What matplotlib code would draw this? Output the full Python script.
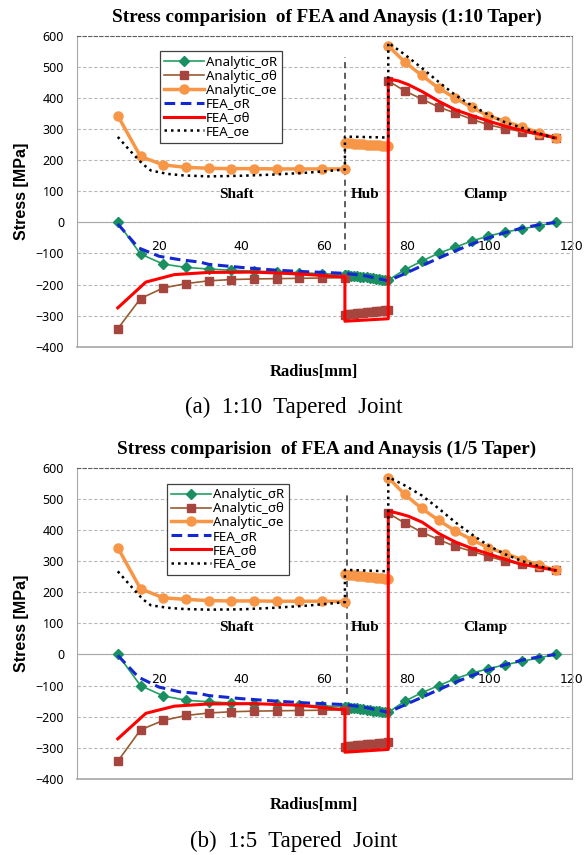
import matplotlib
matplotlib.use("Agg")
import matplotlib.pyplot as plt

# radius positions of the analytic points
r_shaft = [10, 15.5, 21, 26.5, 32, 37.5, 43, 48.5, 54, 59.5, 65]
r_hub = [65, 65.75, 66.5, 67.25, 68, 68.75, 69.5, 70.25, 71, 71.75, 72.5,
         73.25, 74, 74.75, 75.5]
r_clamp = [75.5, 79.5, 83.6, 87.7, 91.7, 95.7, 99.7, 103.8, 107.9, 111.9, 116]

# ---- (a) 1:10 taper ----
an_sR_shaft_a = [0, -102, -134, -145, -150, -154, -157, -159, -162, -165, -168]
an_sR_hub_a = [-168, -169, -171, -172, -173, -175, -176, -177, -179, -180,
               -181, -182, -184, -185, -186]
an_sR_clamp_a = [-186, -152, -125, -99, -80, -60, -44, -31, -21, -11, 0]

an_sT_shaft_a = [-342, -245, -211, -197, -188, -184, -182, -181, -180, -179, -178]
an_sT_hub_a = [-297, -296, -295, -294, -293, -292, -290, -289, -288, -287,
               -286, -285, -284, -283, -281]
an_sT_clamp_a = [455, 423, 397, 371, 352, 332, 314, 302, 292, 281, 271]

an_se_shaft_a = [343, 212, 185, 177, 174, 173, 173, 172, 172, 172, 172]
an_se_hub_a = [255, 254, 254, 253, 252, 252, 251, 250, 250, 249, 248, 248,
               247, 246, 246]
an_se_clamp_a = [568, 516, 473, 432, 400, 370, 343, 325, 307, 289, 271]

fea_r_R = [10, 15, 20, 25, 30, 32, 40, 48.5, 56, 60, 65, 70, 75.5, 79.5,
           83.6, 87.7, 91.7, 95.7, 99.7, 103.8, 107.9, 111.9, 116]
fea_sR_a = [-5, -82, -109, -120, -128, -135, -145, -154, -159, -161, -164,
            -172, -188, -165, -140, -115, -92, -70, -50, -33, -18, -8, 0]

fea_r_T = [10, 16.8, 23.7, 32, 43, 54, 65, 65, 75.5, 75.5, 78, 80.4, 83.7,
           87.8, 91.8, 95.9, 100, 104, 107.3, 112, 116]
fea_sT_a = [-275, -192, -168, -161, -160, -166, -176, -318, -310, 462, 455,
            443, 421, 389, 362, 343, 325, 309, 298, 284, 272]

fea_r_e = [10, 13, 16, 18, 22, 26, 32, 40, 48, 56, 65, 65, 75.5, 75.5, 79.5,
           83.6, 87.7, 91.7, 95.7, 99.7, 103.8, 107.9, 111.9, 116]
fea_se_a = [275, 230, 188, 167, 156, 151, 148, 150, 154, 160, 170, 276, 273,
            578, 540, 497, 452, 410, 376, 347, 322, 304, 287, 270]

# ---- (b) 1/5 taper ----
an_sR_shaft_b = [0, -100, -133, -147, -152, -156, -158, -160, -163, -165, -168]
an_sR_hub_b = [-168, -169, -171, -172, -173, -175, -176, -177, -179, -180,
               -181, -182, -184, -185, -186]
an_sR_clamp_b = [-186, -150, -123, -100, -78, -60, -46, -33, -22, -11, 0]

an_sT_shaft_b = [-343, -242, -212, -196, -188, -184, -182, -181, -180, -179, -178]
an_sT_hub_b = [-296, -295, -294, -293, -292, -291, -290, -289, -288, -287,
               -286, -285, -284, -283, -281]
an_sT_clamp_b = [454, 422, 393, 369, 347, 332, 315, 300, 290, 280, 271]

an_se_shaft_b = [343, 211, 182, 177, 173, 172, 172, 171, 171, 171, 170]
an_se_hub_b = [257, 256, 255, 254, 253, 252, 251, 250, 249, 248, 247, 246,
               245, 244, 243]
an_se_clamp_b = [568, 514, 469, 431, 397, 369, 343, 324, 305, 288, 271]

fea_sR_b = [-3, -73, -105, -120, -126, -132, -142, -150, -156, -158, -161,
            -170, -186, -162, -138, -113, -90, -68, -50, -33, -18, -8, 0]
fea_sT_b = [-271, -189, -166, -159, -158, -163, -178, -314, -305, 461, 453,
            444, 425, 388, 361, 340, 322, 305, 291, 280, 270]
fea_se_b = [267, 222, 178, 158, 150, 146, 144, 145, 150, 157, 168, 272, 267,
            570, 543, 511, 469, 425, 386, 350, 322, 300, 284, 270]

titles = ["Stress comparision  of FEA and Anaysis (1:10 Taper)",
          "Stress comparision  of FEA and Anaysis (1/5 Taper)"]
captions = ["(a)  1:10  Tapered  Joint", "(b)  1:5  Tapered  Joint"]
zones = ["Shaft", "Hub", "Clamp"]
zone_r = [38.7, 70, 99]

GREEN = "#22a060"
GREEN_M = "#1a8f62"
BROWN = "#9a5a30"
BROWN_M = "#a5453e"
ORANGE = "#f79646"
BLUE = "#1428d0"
RED = "#ff0000"

SERIF = "Liberation Serif"
SANS = "Noto Sans"


def draw(ax, an_sR, an_sT, an_se, fea_sR, fea_sT, fea_se, hub_x, hub_top,
         hub_bot, zone_y, leg_pos):
    handles = []
    for xs, ys in zip([r_shaft, r_hub, r_clamp], an_sR):
        h, = ax.plot(xs, ys, color=GREEN, lw=1.2, marker="D", ms=5.5,
                     mfc=GREEN_M, mec=GREEN_M, zorder=4)
    handles.append(h)
    for xs, ys in zip([r_shaft, r_hub, r_clamp], an_sT):
        h, = ax.plot(xs, ys, color=BROWN, lw=1.2, marker="s", ms=6,
                     mfc=BROWN_M, mec=BROWN_M, zorder=4)
    handles.append(h)
    for xs, ys in zip([r_shaft, r_hub, r_clamp], an_se):
        h, = ax.plot(xs, ys, color=ORANGE, lw=2.5, marker="o", ms=6.5,
                     mfc=ORANGE, mec=ORANGE, zorder=4)
    handles.append(h)
    h, = ax.plot(fea_r_R, fea_sR, color=BLUE, lw=2.2, ls=(0, (3.5, 1.8)),
                 zorder=5)
    handles.append(h)
    h, = ax.plot(fea_r_T, fea_sT, color=RED, lw=2.2, zorder=5)
    handles.append(h)
    h, = ax.plot(fea_r_e, fea_se, color="black", lw=1.8, ls=(0, (1, 1.6)),
                 zorder=5)
    handles.append(h)

    ax.vlines(hub_x, hub_bot, hub_top, colors="#333333", lw=1.1,
              linestyles=(0, (4, 3)), zorder=3)

    for name, zr in zip(zones, zone_r):
        ax.text(zr, zone_y, name, ha="center", va="center", family=SERIF,
                weight="bold", fontsize=11)

    labels = ["Analytic_σR", "Analytic_σθ", "Analytic_σe", "FEA_σR",
              "FEA_σθ", "FEA_σe"]
    leg = ax.legend(handles, labels, loc="upper left", bbox_to_anchor=leg_pos,
                    borderaxespad=0, fancybox=False, framealpha=1,
                    edgecolor="#404040", prop={"family": SANS, "size": 9.5},
                    handlelength=3.0, handletextpad=0.15, labelspacing=0.06,
                    borderpad=0.35, numpoints=1)
    leg.get_frame().set_linewidth(0.9)

    ax.set_xlim(0, 120)
    ax.set_ylim(-400, 600)
    ax.set_yticks(range(-400, 601, 100))
    ax.set_xticks(range(20, 121, 20))
    ax.yaxis.grid(True, ls=(0, (3, 2)), color="#b8b8b8", lw=0.8)
    ax.set_axisbelow(True)
    ax.tick_params(length=0, labelsize=9)
    ax.tick_params(axis="y", pad=9)
    ax.tick_params(axis="x", pad=13)
    for lab in ax.get_xticklabels() + ax.get_yticklabels():
        lab.set_family(SANS)
    ax.spines["bottom"].set_position(("data", 0))
    ax.spines["bottom"].set_color("#a8a8a8")
    ax.spines["left"].set_color("#a8a8a8")
    ax.spines["right"].set_color("#a8a8a8")
    ax.spines["top"].set_color("#606060")
    ax.spines["top"].set_linestyle((0, (3, 2)))
    ax.plot([0, 1], [0, 0], transform=ax.transAxes, color="#a8a8a8", lw=1.2,
            clip_on=False)


fig = plt.figure(figsize=(5.84, 8.55), dpi=100)
ax1 = fig.add_axes([0.131, 0.5945, 0.8485, 0.3635])
ax2 = fig.add_axes([0.131, 0.0889, 0.8485, 0.3641])

draw(ax1, [an_sR_shaft_a, an_sR_hub_a, an_sR_clamp_a],
     [an_sT_shaft_a, an_sT_hub_a, an_sT_clamp_a],
     [an_se_shaft_a, an_se_hub_a, an_se_clamp_a],
     fea_sR_a, fea_sT_a, fea_se_a, 65, 532, -88, 90, (0.168, 0.95))
draw(ax2, [an_sR_shaft_b, an_sR_hub_b, an_sR_clamp_b],
     [an_sT_shaft_b, an_sT_hub_b, an_sT_clamp_b],
     [an_se_shaft_b, an_se_hub_b, an_se_clamp_b],
     fea_sR_b, fea_sT_b, fea_se_b, 65.5, 518, -128, 88, (0.182, 0.948))

for ax, title_y, xl_y, cap_y, title, cap in [
        (ax1, 0.980, 0.565, 0.524, titles[0], captions[0]),
        (ax2, 0.474, 0.0585, 0.0156, titles[1], captions[1])]:
    fig.text(0.559, title_y, title, ha="center", va="center", family=SERIF,
             weight="bold", fontsize=13.8)
    fig.text(0.537, xl_y, "Radius[mm]", ha="center", va="center",
             family=SERIF, weight="bold", fontsize=12)
    fig.text(0.503, cap_y, cap, ha="center", va="center", family=SERIF,
             fontsize=16.5)
    ax.set_ylabel("Stress [MPa]", family="Liberation Sans", weight="bold",
                  fontsize=11.5, labelpad=5)

fig.savefig("out.png", dpi=100)
